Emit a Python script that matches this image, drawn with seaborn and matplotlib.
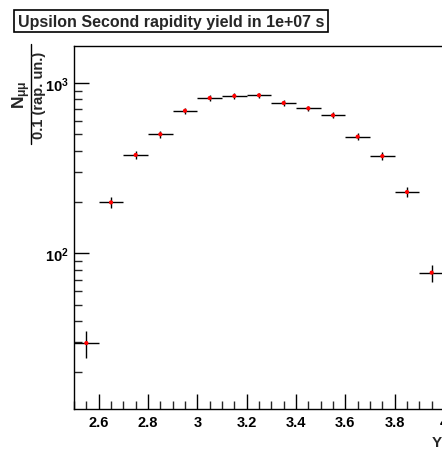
import matplotlib
matplotlib.use("Agg")
import numpy as np
import pandas as pd
import seaborn as sns
import matplotlib.pyplot as plt
from matplotlib.lines import Line2D
from matplotlib.ticker import MultipleLocator, LogLocator, FuncFormatter, NullFormatter, FixedLocator

# ---- data ----
bin_centers = [2.55, 2.65, 2.75, 2.85, 2.95, 3.05, 3.15, 3.25, 3.35, 3.45, 3.55, 3.65, 3.75, 3.85, 3.95]
yields = [29.7, 199, 378, 500, 687, 816, 839, 847, 763, 710, 646, 484, 372, 229, 77]
yield_errors = [5.4, 14.1, 19.4, 22.4, 26.2, 28.6, 29.0, 29.1, 27.6, 26.6, 25.4, 22.0, 19.3, 15.1, 8.8]
bin_half_width = 0.05
x_ticks = [2.6, 2.8, 3.0, 3.2, 3.4, 3.6, 3.8, 4.0]
x_tick_labels = ["2.6", "2.8", "3", "3.2", "3.4", "3.6", "3.8", "4"]
title_text = "Upsilon Second rapidity yield in 1e+07 s"
ylabel_num = r"$N_{\mu\mu}$"
ylabel_den = "0.1 (rap. un.)"
xlabel_text = "Y"

df = pd.DataFrame({"Y": bin_centers, "N": yields, "err": yield_errors})

sns.set_style("ticks")
plt.rcParams["font.family"] = ["Liberation Sans", "DejaVu Sans"]
plt.rcParams["font.weight"] = "bold"
plt.rcParams["mathtext.fontset"] = "custom"
plt.rcParams["mathtext.rm"] = "Liberation Sans:bold"
plt.rcParams["mathtext.it"] = "Liberation Sans:bold"
plt.rcParams["mathtext.bf"] = "Liberation Sans:bold"
plt.rcParams["mathtext.sf"] = "Liberation Sans:bold"

W, H = 442, 452
fig = plt.figure(figsize=(W / 100, H / 100), dpi=100)
left, right, top, bottom = 74, 444, 47, 410
ax = fig.add_axes([left / W, 1 - bottom / H, (right - left) / W, (bottom - top) / H])

ax.errorbar(df["Y"], df["N"], yerr=df["err"], xerr=bin_half_width,
            fmt="none", ecolor="black", elinewidth=1.0, capsize=0, zorder=2)
sns.scatterplot(data=df, x="Y", y="N", ax=ax, color="red", s=9,
                edgecolor="none", marker="o", zorder=3, legend=False)

ax.set_yscale("log")
ax.set_xlim(2.5, 4.0)
ax.set_ylim(12.18, 1649)

ax.xaxis.set_major_locator(FixedLocator(x_ticks))
ax.set_xticklabels(x_tick_labels)
ax.xaxis.set_minor_locator(MultipleLocator(0.05))
ax.yaxis.set_major_locator(LogLocator(base=10, numticks=10))
ax.yaxis.set_minor_locator(LogLocator(base=10, subs=np.arange(2, 10), numticks=20))
ax.yaxis.set_major_formatter(FuncFormatter(lambda v, p: r"$10^{%d}$" % round(np.log10(v))))
ax.yaxis.set_minor_formatter(NullFormatter())

ax.tick_params(axis="both", which="major", direction="in", length=11, width=1.0,
               labelsize=10.5, colors="black")
ax.tick_params(axis="both", which="minor", direction="in", length=6, width=1.0)
ax.tick_params(axis="x", which="major", pad=4)
ax.tick_params(axis="y", which="major", pad=4)
for lab in ax.get_xticklabels() + ax.get_yticklabels():
    lab.set_fontweight("bold")

for s in ["left", "bottom", "top", "right"]:
    ax.spines[s].set_visible(True)
    ax.spines[s].set_linewidth(1.0)
    ax.spines[s].set_color("black")

ax.set_xlabel("")
ax.set_ylabel("")

# y-axis title as a fraction: numerator, bar, denominator
fig.text(22 / W, 1 - 95 / H, ylabel_num, rotation=90, ha="center", va="center", fontsize=12.5)
fig.text(39.5 / W, 1 - 95 / H, ylabel_den, rotation=90, ha="center", va="center",
         fontsize=10.5, fontweight="bold")
fig.add_artist(Line2D([31 / W, 31 / W], [1 - 45 / H, 1 - 145 / H], color="black", lw=1.0,
                      transform=fig.transFigure))
# x-axis title
fig.text(442 / W, 1 - 443 / H, xlabel_text, ha="right", va="center",
         fontsize=11, fontweight="bold")

# title box
fig.text(18 / W, 1 - 22 / H, title_text, ha="left", va="center",
         fontsize=11.5, fontweight="bold",
         bbox=dict(boxstyle="square,pad=0.25", fc="white", ec="black", lw=1.2))

fig.savefig("out.png", dpi=100)
